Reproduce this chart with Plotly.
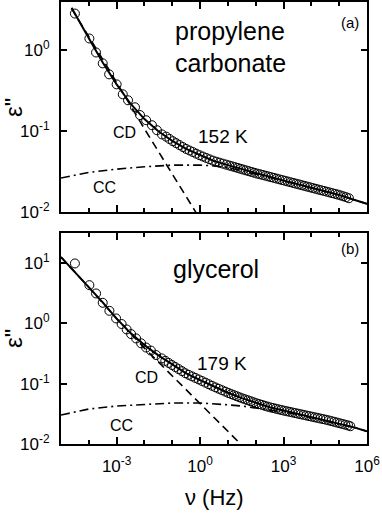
import numpy as np
import plotly.graph_objects as go

# values below are log10(nu / Hz) and log10(eps'')

# (a) propylene carbonate, 152 K
pc_data_lognu = [-4.50, -3.98, -3.74, -3.50, -3.27, -3.00, -2.78, -2.59, -2.34, -2.16,
                 -1.94, -1.73, -1.55, -1.37, -1.22, -1.10, -0.98, -0.86, -0.74, -0.62,
                 -0.50, -0.38, -0.26, -0.14, -0.02, 0.10, 0.22, 0.34, 0.46, 0.58,
                 0.70, 0.82, 0.94, 1.05, 1.15, 1.25, 1.35, 1.45, 1.55, 1.65,
                 1.75, 1.85, 1.95, 2.05, 2.15, 2.25, 2.35, 2.45, 2.55, 2.65,
                 2.75, 2.85, 2.95, 3.05, 3.15, 3.25, 3.35, 3.45, 3.55, 3.65,
                 3.75, 3.85, 3.95, 4.05, 4.15, 4.25, 4.35, 4.45, 4.55, 4.65,
                 4.75, 4.85, 4.95, 5.05, 5.15, 5.25, 5.35]
pc_data_logeps = [0.457, 0.148, -0.025, -0.160, -0.296, -0.420, -0.543, -0.617, -0.704, -0.800,
                  -0.864, -0.926, -0.988, -1.040, -1.067, -1.096, -1.124, -1.148, -1.172, -1.196,
                  -1.220, -1.239, -1.258, -1.278, -1.297, -1.314, -1.331, -1.348, -1.364, -1.378,
                  -1.390, -1.402, -1.414, -1.425, -1.435, -1.445, -1.455, -1.465, -1.475, -1.485,
                  -1.495, -1.505, -1.515, -1.525, -1.533, -1.542, -1.551, -1.560, -1.569, -1.578,
                  -1.587, -1.596, -1.605, -1.614, -1.623, -1.632, -1.641, -1.650, -1.659, -1.668,
                  -1.677, -1.686, -1.695, -1.704, -1.713, -1.722, -1.731, -1.740, -1.749, -1.758,
                  -1.767, -1.776, -1.785, -1.795, -1.806, -1.817, -1.830]
pc_fit_lognu = [-4.62, -4.5, -4.0, -3.5, -3.0, -2.5, -2.0, -1.5, -1.0, -0.5, 0.0, 0.5,
                1.0, 1.5, 2.0, 2.5, 3.0, 3.5, 4.0, 4.5, 5.0, 5.5, 6.0]
pc_fit_logeps = [0.53, 0.46, 0.15, -0.15, -0.42, -0.66, -0.85, -1.00, -1.12, -1.22, -1.30, -1.37,
                 -1.42, -1.47, -1.52, -1.565, -1.61, -1.655, -1.70, -1.745, -1.79, -1.845, -1.90]
pc_cd_lognu = [-4.62, -4.5, -4.0, -3.5, -3.0, -2.5, -2.0, -1.5, -1.0, -0.5, 0.0]
pc_cd_logeps = [0.52, 0.45, 0.17, -0.11, -0.40, -0.69, -0.97, -1.25, -1.53, -1.81, -2.09]
pc_cc_lognu = [-5.0, -4.0, -3.0, -2.0, -1.0, 0.0, 0.5, 1.0, 1.5, 2.0, 2.5, 3.0,
               3.5, 4.0, 4.5, 5.0, 5.5, 6.0]
pc_cc_logeps = [-1.58, -1.51, -1.47, -1.44, -1.42, -1.42, -1.43, -1.45, -1.49, -1.53, -1.57, -1.615,
                -1.66, -1.70, -1.745, -1.79, -1.845, -1.90]

# (b) glycerol, 179 K
gly_data_lognu = [-4.50, -3.98, -3.74, -3.50, -3.26, -3.02, -2.82, -2.64, -2.48, -2.30,
                  -2.12, -1.94, -1.77, -1.58, -1.38, -1.25, -1.13, -1.01, -0.89, -0.77,
                  -0.65, -0.53, -0.41, -0.29, -0.17, -0.05, 0.07, 0.19, 0.31, 0.43,
                  0.55, 0.67, 0.79, 0.91, 1.02, 1.12, 1.22, 1.32, 1.42, 1.52,
                  1.62, 1.72, 1.82, 1.92, 2.02, 2.12, 2.22, 2.32, 2.42, 2.52,
                  2.62, 2.72, 2.82, 2.92, 3.02, 3.12, 3.22, 3.32, 3.42, 3.52,
                  3.62, 3.72, 3.82, 3.92, 4.02, 4.12, 4.22, 4.32, 4.42, 4.52,
                  4.62, 4.72, 4.82, 4.92, 5.02, 5.12, 5.22, 5.32, 5.40]
gly_data_logeps = [0.995, 0.635, 0.497, 0.342, 0.209, 0.083, -0.010, -0.100, -0.177, -0.249,
                   -0.330, -0.400, -0.450, -0.525, -0.580, -0.620, -0.655, -0.690, -0.724, -0.758,
                   -0.792, -0.826, -0.853, -0.878, -0.904, -0.929, -0.955, -0.982, -1.008, -1.035,
                   -1.060, -1.084, -1.108, -1.132, -1.154, -1.172, -1.190, -1.208, -1.226, -1.243,
                   -1.259, -1.275, -1.291, -1.307, -1.323, -1.337, -1.351, -1.365, -1.379, -1.392,
                   -1.403, -1.414, -1.425, -1.436, -1.447, -1.457, -1.467, -1.477, -1.487, -1.497,
                   -1.507, -1.517, -1.527, -1.537, -1.547, -1.557, -1.567, -1.577, -1.587, -1.597,
                   -1.608, -1.620, -1.632, -1.644, -1.656, -1.668, -1.680, -1.692, -1.705]
gly_fit_lognu = [-5.0, -4.5, -4.0, -3.5, -3.0, -2.5, -2.0, -1.5, -1.0, -0.5, 0.0, 0.5,
                 1.0, 1.5, 2.0, 2.5, 3.0, 3.5, 4.0, 4.5, 5.0, 5.5, 6.0]
gly_fit_logeps = [1.10, 0.85, 0.60, 0.35, 0.08, -0.16, -0.36, -0.53, -0.68, -0.83, -0.94, -1.05,
                  -1.15, -1.24, -1.32, -1.39, -1.445, -1.50, -1.55, -1.60, -1.66, -1.72, -1.79]
gly_cd_lognu = [-5.0, -4.0, -3.0, -2.5, -2.0, -1.5, -1.0, -0.5, 0.0, 0.5, 1.0, 1.5, 2.0]
gly_cd_logeps = [1.10, 0.60, 0.08, -0.17, -0.41, -0.64, -0.87, -1.10, -1.33, -1.56, -1.79, -2.02, -2.25]
gly_cc_lognu = [-5.0, -4.0, -3.0, -2.0, -1.0, 0.0, 0.5, 1.0, 1.5, 2.0, 2.5, 3.0,
                3.5, 4.0, 4.5, 5.0, 5.5, 6.0]
gly_cc_logeps = [-1.52, -1.42, -1.37, -1.34, -1.32, -1.32, -1.33, -1.35, -1.37, -1.40, -1.43, -1.47,
                 -1.51, -1.56, -1.61, -1.66, -1.72, -1.79]

decades = [-5, -4, -3, -2, -1, 0, 1, 2, 3, 4, 5, 6]
labelled = [-3, 0, 3, 6]

FONT = "Liberation Sans, Arial, sans-serif"


def p10(v):
    return np.power(10.0, np.array(v, dtype=float))


def sup(n):
    return f"10<sup>{n}</sup>"


def panel(fig, lognu, logeps, fit_x, fit_y, cd_x, cd_y, cc_x, cc_y, xa, ya):
    fig.add_trace(go.Scatter(x=p10(lognu), y=p10(logeps), mode="markers",
                             marker=dict(symbol="circle-open", size=9, color="black",
                                         line=dict(width=1, color="black")),
                             xaxis=xa, yaxis=ya))
    fig.add_trace(go.Scatter(x=p10(cc_x), y=p10(cc_y), mode="lines",
                             line=dict(color="black", width=1.6, dash="9px,4px,2px,4px"),
                             xaxis=xa, yaxis=ya))
    fig.add_trace(go.Scatter(x=p10(cd_x), y=p10(cd_y), mode="lines",
                             line=dict(color="black", width=1.6, dash="8px,5px"),
                             xaxis=xa, yaxis=ya))
    fig.add_trace(go.Scatter(x=p10(fit_x), y=p10(fit_y), mode="lines",
                             line=dict(color="black", width=2),
                             xaxis=xa, yaxis=ya))


fig = go.Figure()
panel(fig, pc_data_lognu, pc_data_logeps, pc_fit_lognu, pc_fit_logeps,
      pc_cd_lognu, pc_cd_logeps, pc_cc_lognu, pc_cc_logeps, "x", "y")
panel(fig, gly_data_lognu, gly_data_logeps, gly_fit_lognu, gly_fit_logeps,
      gly_cd_lognu, gly_cd_logeps, gly_cc_lognu, gly_cc_logeps, "x2", "y2")

xcommon = dict(
    type="log", range=[-5, 6],
    tickvals=[10.0 ** d for d in labelled],
    ticktext=[sup(d) for d in labelled],
    ticks="inside", ticklen=7, tickwidth=1.5, tickcolor="black",
    minor=dict(tickvals=[10.0 ** d for d in decades], ticks="inside", ticklen=4,
               tickwidth=1.5, tickcolor="black"),
    showline=True, linewidth=2, linecolor="black", mirror="allticks",
    showgrid=False, zeroline=False, automargin=False,
    tickfont=dict(family=FONT, size=17, color="black"),
    ticklabelstandoff=6,
)
ycommon = dict(
    type="log",
    ticks="inside", ticklen=6, tickwidth=1.5, tickcolor="black",
    showline=True, linewidth=2, linecolor="black", mirror="allticks",
    showgrid=False, zeroline=False, automargin=False,
    tickfont=dict(family=FONT, size=17, color="black"),
    ticklabelstandoff=6,
)

top_ticks = [-2, -1, 0]
bot_ticks = [-2, -1, 0, 1]

fig.update_layout(
    width=382, height=513,
    margin=dict(l=61, r=15, t=2, b=69),
    paper_bgcolor="white", plot_bgcolor="white",
    showlegend=False,
    xaxis=dict(xcommon, domain=[0, 1], anchor="y", showticklabels=False),
    yaxis=dict(ycommon, domain=[0.525, 1.0], anchor="x", range=[-2, 0.6],
               tickvals=[10.0 ** d for d in top_ticks], ticktext=[sup(d) for d in top_ticks]),
    xaxis2=dict(xcommon, domain=[0, 1], anchor="y2"),
    yaxis2=dict(ycommon, domain=[0.0, 0.4774], anchor="x2", range=[-2, 1.5],
                tickvals=[10.0 ** d for d in bot_ticks], ticktext=[sup(d) for d in bot_ticks]),
)


def label(text, x, y, size, xa="x", ya="y", angle=0):
    fig.add_annotation(text=text, x=x, y=y, xref=xa, yref=ya, showarrow=False,
                       xanchor="center", yanchor="middle", textangle=angle,
                       font=dict(family=FONT, size=size, color="black"))


label("propylene", 1.08, 0.24, 25)
label("carbonate", 1.08, -0.15, 25)
label("(a)", 5.40, 0.35, 15)
label("152 K", 0.83, -1.07, 19)
label("CD", -2.70, -1.01, 16)
label("CC", -3.42, -1.70, 16)

label("glycerol", 0.58, 0.90, 25, "x2", "y2")
label("(b)", 5.40, 1.25, 15, "x2", "y2")
label("179 K", 0.79, -0.66, 19, "x2", "y2")
label("CD", -1.91, -0.89, 16, "x2", "y2")
label("CC", -2.81, -1.69, 16, "x2", "y2")

label("ε\"", -0.157, 0.7624, 24, "paper", "paper", -90)
label("ε\"", -0.157, 0.2398, 24, "paper", "paper", -90)
label("ν (Hz)", 0.5, -0.12, 22, "paper", "paper")

# the page has a default 8px body margin; drop it so the figure sits at the corner
fig.write_html("out.html", config={"displayModeBar": False},
               post_script="document.body.style.margin='0';")
